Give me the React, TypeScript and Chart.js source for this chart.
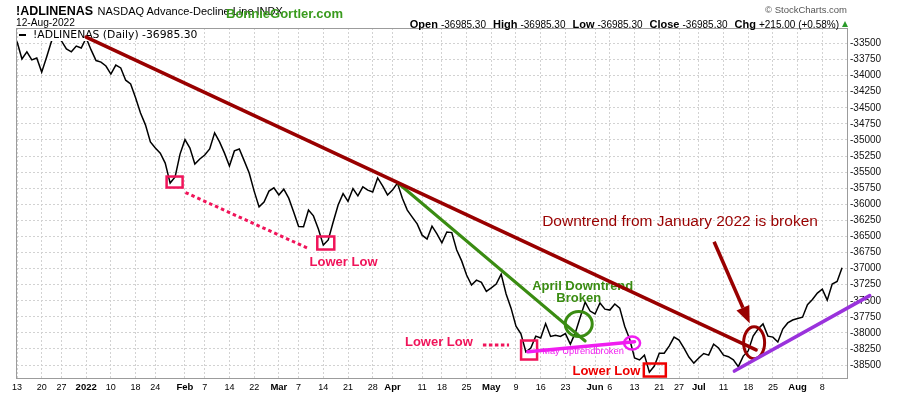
import React, { useEffect, useRef } from 'react';
import { Chart, registerables } from 'chart.js';

Chart.register(...registerables);

// ---------- data ----------
const seriesName = '!ADLINENAS';
const holidays = ['2021-12-24', '2022-01-17', '2022-02-21', '2022-04-15', '2022-05-30', '2022-06-20', '2022-07-04'];

function tradingDays(start: string, end: string): string[] {
  const out: string[] = [];
  const [sy, sm, sd] = start.split('-').map(Number);
  const [ey, em, ed] = end.split('-').map(Number);
  let t = Date.UTC(sy, sm - 1, sd);
  const stop = Date.UTC(ey, em - 1, ed);
  while (t <= stop) {
    const d = new Date(t);
    const wd = d.getUTCDay();
    const iso = d.toISOString().slice(0, 10);
    if (wd !== 0 && wd !== 6 && !holidays.includes(iso)) out.push(iso);
    t += 86400000;
  }
  return out;
}
const dates = tradingDays('2021-12-13', '2022-08-12');

const adlValues = [
  -33470, -33740, -33630, -33755, -33725, -33945, -33710, -33460, -33385, -33460,
  -33585, -33630, -33540, -33570, -33415, -33600, -33765, -33790, -33850, -33975,
  -33835, -33880, -34070, -34130, -34345, -34580, -34765, -35030, -35125, -35205,
  -35360, -35670, -35575, -35220, -34995, -35125, -35375, -35295, -35235, -35140,
  -34890, -35030, -35205, -35405, -35170, -35140, -35325, -35515, -35795, -36040,
  -35965, -35795, -35745, -35855, -35765, -35905, -36120, -36345, -36350, -36090,
  -36180, -36385, -36635, -36555, -36275, -36010, -35835, -35955, -35755, -35870,
  -35730, -35780, -35810, -35590, -35715, -35855, -35780, -35670, -35905, -36090,
  -36200, -36305, -36480, -36540, -36340, -36460, -36600, -36430, -36440, -36710,
  -36880, -37100, -37255, -37180, -37215, -37355, -37300, -37240, -37085, -37395,
  -37615, -37895, -38015, -38295, -38235, -38050, -38080, -37855, -38055, -38035,
  -38055, -38010, -38175, -38000, -37755, -37520, -37660, -37705, -37535, -37630,
  -37645, -37550, -37615, -37895, -38095, -38390, -38420, -38345, -38610, -38515,
  -38315, -38315, -38205, -38065, -38110, -38235, -38375, -38470, -38390, -38320,
  -38345, -38175, -38235, -38345, -38370, -38420, -38525, -38360, -38280, -38050,
  -37940, -37860, -38050, -38065, -38140, -37940, -37845, -37800, -37775, -37755,
  -37560, -37480, -37380, -37320, -37490, -37240, -37200.3, -36985.3,
];

const xTickDates = [
  '2021-12-13', '2021-12-20', '2021-12-27', '2022-01-03', '2022-01-10', '2022-01-18', '2022-01-24',
  '2022-02-01', '2022-02-07', '2022-02-14', '2022-02-22', '2022-03-01', '2022-03-07', '2022-03-14',
  '2022-03-21', '2022-03-28', '2022-04-01', '2022-04-11', '2022-04-18', '2022-04-25', '2022-05-02',
  '2022-05-09', '2022-05-16', '2022-05-23', '2022-06-01', '2022-06-06', '2022-06-13', '2022-06-21',
  '2022-06-27', '2022-07-01', '2022-07-11', '2022-07-18', '2022-07-25', '2022-08-01', '2022-08-08',
];
const xTickLabels = [
  '13', '20', '27', '2022', '10', '18', '24',
  'Feb', '7', '14', '22', 'Mar', '7', '14',
  '21', '28', 'Apr', '11', '18', '25', 'May',
  '9', '16', '23', 'Jun', '6', '13', '21',
  '27', 'Jul', '11', '18', '25', 'Aug', '8',
];
const xBoldLabels = ['2022', 'Feb', 'Mar', 'Apr', 'May', 'Jun', 'Jul', 'Aug'];
const yTickValues = [
  -38500, -38250, -38000, -37750, -37500, -37250, -37000, -36750, -36500, -36250, -36000,
  -35750, -35500, -35250, -35000, -34750, -34500, -34250, -34000, -33750, -33500,
];
const yMin = -38701;
const yMax = -33259;

const ohlc = [
  ['Open', '-36985.30'],
  ['High', '-36985.30'],
  ['Low', '-36985.30'],
  ['Close', '-36985.30'],
  ['Chg', '+215.00 (+0.58%)'],
];

// ---------- annotations (data coordinates: [index, value]) ----------
const SANS = '"Liberation Sans", Arial, sans-serif';
const PINK = '#f0145a';
const DARKRED = '#990000';
const GREEN = '#3a8c12';
const MAGENTA = '#f01ef0';
const PURPLE = '#9a32dc';

const annotPlugin = {
  id: 'annot',
  afterDatasetsDraw(chart: any) {
    const { ctx, chartArea: a, scales } = chart;
    const X = (i: number) => scales.x.getPixelForValue(i);
    const Y = (v: number) => scales.y.getPixelForValue(v);
    const line = (p: number[], q: number[], color: string, w: number, dash: number[] = []) => {
      ctx.save();
      ctx.strokeStyle = color; ctx.lineWidth = w; ctx.setLineDash(dash); ctx.lineCap = dash.length ? 'butt' : 'round';
      ctx.beginPath(); ctx.moveTo(X(p[0]), Y(p[1])); ctx.lineTo(X(q[0]), Y(q[1])); ctx.stroke();
      ctx.restore();
    };
    const box = (c: number[], w: number, h: number, color: string) => {
      ctx.save(); ctx.strokeStyle = color; ctx.lineWidth = 2.5;
      ctx.strokeRect(X(c[0]) - w / 2, Y(c[1]) - h / 2, w, h); ctx.restore();
    };
    const ell = (c: number[], rx: number, ry: number, color: string, w: number) => {
      ctx.save(); ctx.strokeStyle = color; ctx.lineWidth = w;
      ctx.beginPath(); ctx.ellipse(X(c[0]), Y(c[1]), rx, ry, 0, 0, Math.PI * 2); ctx.stroke(); ctx.restore();
    };
    const text = (s: string, c: number[], font: string, color: string, align: CanvasTextAlign = 'center') => {
      ctx.save(); ctx.font = font; ctx.fillStyle = color; ctx.textAlign = align; ctx.textBaseline = 'middle';
      ctx.fillText(s, X(c[0]), Y(c[1])); ctx.restore();
    };

    // plot frame
    ctx.save();
    ctx.strokeStyle = '#9c9c9c'; ctx.lineWidth = 1;
    ctx.strokeRect(a.left - 0.5, a.top + 0.5, a.right - a.left + 1, a.bottom - a.top);
    // legend
    ctx.fillStyle = '#fff';
    ctx.fillRect(a.left + 1, a.top + 1, 182, 12);
    ctx.fillStyle = '#000';
    ctx.fillRect(a.left + 2, a.top + 6, 7, 2);
    ctx.font = '10.8px "DejaVu Sans", sans-serif';
    ctx.textBaseline = 'middle';
    ctx.fillText(`${seriesName} (Daily) ${adlValues[adlValues.length - 1].toFixed(2)}`, a.left + 16, a.top + 7.5);
    ctx.restore();

    // January lower low
    line([34.1, -35817], [59.0, -36688], PINK, 3, [3.5, 3]);
    box([31.9, -35654], 16, 11, PINK);
    box([62.5, -36602], 17, 13, PINK);
    text('Lower Low', [66.1, -36898], `bold 13px ${SANS}`, PINK);

    // May lower low and uptrend
    text('Lower Low', [85.4, -38142], `bold 13px ${SANS}`, PINK);
    line([94.3, -38189], [99.6, -38189], PINK, 3, [3.5, 2.5]);
    box([103.65, -38266], 16, 19, PINK);
    line([103.4, -38293], [125.0, -38137], MAGENTA, 3.5);
    ell([124.5, -38157], 8, 6.5, MAGENTA, 2.5);
    text('May Uptrendbroken', [106.3, -38289], `9.3px ${SANS}`, MAGENTA, 'left');
    text('Lower Low', [119.3, -38593], `bold 13px ${SANS}`, '#ee0000');
    box([129.1, -38577], 22, 13, '#ee0000');

    // April downtrend
    line([77.1, -35669], [115.0, -38126], GREEN, 3);
    ell([113.7, -37862], 13.5, 12.5, GREEN, 3);
    text('April Downtrend', [114.5, -37271], `bold 13px ${SANS}`, GREEN);
    text('Broken', [113.7, -37465], `bold 13px ${SANS}`, GREEN);

    // January downtrend
    line([14, -33400], [149.6, -38265], DARKRED, 3.5);
    ell([149.2, -38152], 10.5, 16, DARKRED, 3);
    text('Downtrend from January 2022 is broken', [106.3, -36272], `15.5px ${SANS}`, DARKRED, 'left');
    {
      const x1 = X(141.1), y1 = Y(-36582), x2 = X(148.3), y2 = Y(-37851);
      const ang = Math.atan2(y2 - y1, x2 - x1);
      const hl = 17, hw = 7;
      const bx = x2 - hl * Math.cos(ang), by = y2 - hl * Math.sin(ang);
      ctx.save();
      ctx.strokeStyle = DARKRED; ctx.fillStyle = DARKRED; ctx.lineWidth = 3.5;
      ctx.beginPath(); ctx.moveTo(x1, y1); ctx.lineTo(bx, by); ctx.stroke();
      ctx.beginPath();
      ctx.moveTo(x2, y2);
      ctx.lineTo(bx + hw * Math.sin(ang), by - hw * Math.cos(ang));
      ctx.lineTo(bx - hw * Math.sin(ang), by + hw * Math.cos(ang));
      ctx.closePath(); ctx.fill();
      ctx.restore();
    }

    // July uptrend
    line([145.2, -38593], [172.6, -37420], PURPLE, 3.5);
  },
};

export default function App() {
  const ref = useRef<HTMLCanvasElement | null>(null);

  useEffect(() => {
    if (!ref.current) return;
    const xTickIdx = xTickDates.map((d) => dates.indexOf(d));
    const chart = new Chart(ref.current, {
      type: 'line',
      data: {
        labels: [...dates, ''],
        datasets: [{
          data: adlValues,
          borderColor: '#000',
          borderWidth: 1.5,
          pointRadius: 0,
          tension: 0,
          fill: false,
        }],
      },
      options: {
        animation: false,
        responsive: false,
        devicePixelRatio: 1,
        layout: { padding: { left: 17, top: 28, right: 0, bottom: 0 } },
        plugins: { legend: { display: false }, tooltip: { enabled: false }, title: { display: false } },
        scales: {
          x: {
            type: 'category',
            offset: false,
            grid: { color: '#d2d2d2', lineWidth: 1, drawTicks: false },
            border: { display: false, dash: [2, 2] },
            afterBuildTicks: (s: any) => { s.ticks = xTickIdx.map((v) => ({ value: v })); },
            afterFit: (s: any) => { s.height = 18; },
            ticks: {
              autoSkip: false,
              maxRotation: 0,
              minRotation: 0,
              padding: 4,
              color: '#000',
              callback: (_v: any, i: number) => xTickLabels[i],
              font: (c: any) => ({
                family: SANS,
                size: xBoldLabels.includes(xTickLabels[c.index]) ? 9.5 : 9,
                weight: xBoldLabels.includes(xTickLabels[c.index]) ? 'bold' : 'normal',
              }),
            },
          },
          y: {
            position: 'right',
            min: yMin,
            max: yMax,
            grid: { color: '#d2d2d2', lineWidth: 1, drawTicks: false },
            border: { display: false, dash: [2, 2] },
            afterBuildTicks: (s: any) => { s.ticks = yTickValues.map((v) => ({ value: v })); },
            afterFit: (s: any) => { s.width = 53; },
            ticks: {
              padding: 3,
              color: '#111',
              font: { family: SANS, size: 10 },
              callback: (v: any) => String(v),
            },
          },
        },
      } as any,
      plugins: [annotPlugin],
    });
    return () => chart.destroy();
  }, []);

  return (
    <div style={{ position: 'absolute', left: 0, top: 0, width: 900, height: 396, background: '#fff', fontFamily: SANS, color: '#000' }}>
      <canvas ref={ref} width={900} height={396} style={{ position: 'absolute', left: 0, top: 0 }} />
      <div style={{ position: 'absolute', left: 16, top: 3, whiteSpace: 'nowrap', lineHeight: '13px' }}>
        <span style={{ fontWeight: 'bold', fontSize: 12.5 }}>{seriesName}</span>
        <span style={{ fontSize: 11, marginLeft: 4.5 }}>NASDAQ Advance-Decline Line INDX</span>
      </div>
      <div style={{ position: 'absolute', left: 16, top: 17, whiteSpace: 'nowrap', fontSize: 10.2, lineHeight: '11px' }}>12-Aug-2022</div>
      <div style={{ position: 'absolute', left: 226, top: 7, whiteSpace: 'nowrap', fontSize: 13, fontWeight: 'bold', color: '#3a9b1e', lineHeight: '14px' }}>BonnieGortler.com</div>
      <div style={{ position: 'absolute', right: 53, top: 4, whiteSpace: 'nowrap', fontSize: 9.5, color: '#555', lineHeight: '11px' }}>© StockCharts.com</div>
      <div style={{ position: 'absolute', right: 52, top: 17, whiteSpace: 'nowrap', lineHeight: '12px' }}>
        {ohlc.map(([k, v], i) => (
          <span key={k} style={{ marginLeft: i === 0 ? 0 : 7 }}>
            <span style={{ fontWeight: 'bold', fontSize: 11 }}>{k}</span>
            <span style={{ fontSize: 10, marginLeft: 3 }}>{v}</span>
          </span>
        ))}
        <span style={{ display: 'inline-block', marginLeft: 3, width: 0, height: 0, borderLeft: '3.5px solid transparent', borderRight: '3.5px solid transparent', borderBottom: '6px solid #2a9a2a', verticalAlign: 'middle' }} />
      </div>
    </div>
  );
}
